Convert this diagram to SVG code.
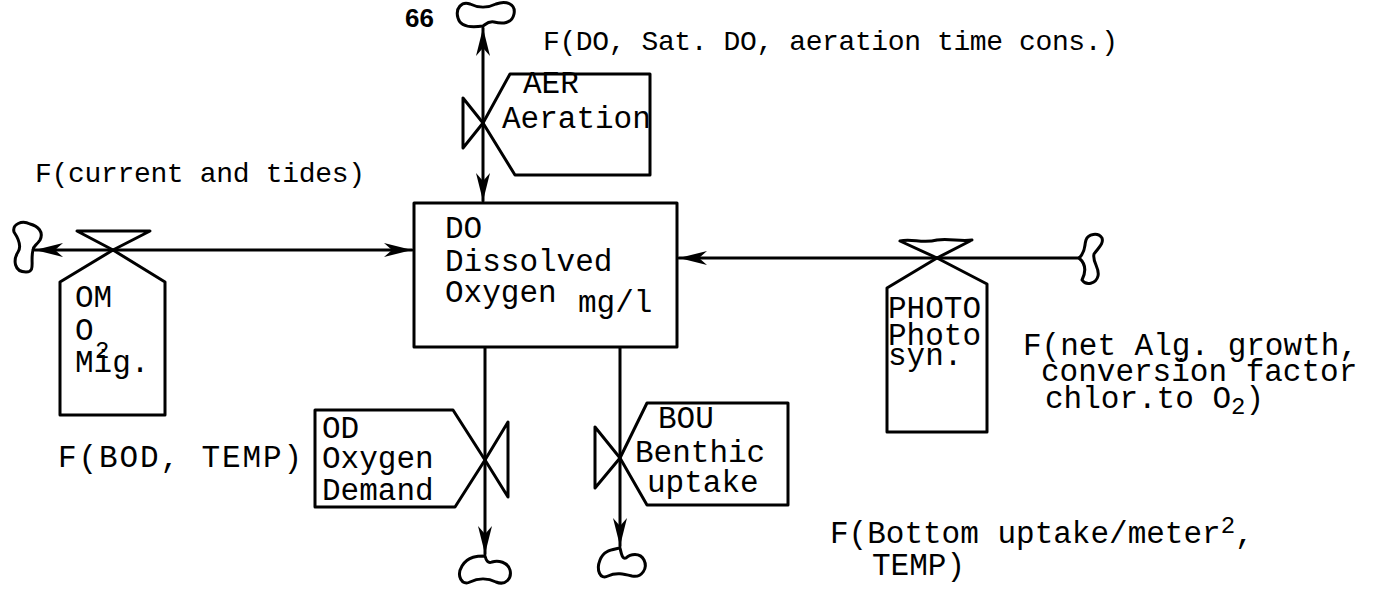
<svg xmlns="http://www.w3.org/2000/svg" width="1374" height="592" viewBox="0 0 1374 592">
<style>
  .ln{fill:none;stroke:#000;stroke-width:3;stroke-linejoin:round;stroke-linecap:round}
  .tx{font-family:"Liberation Mono","Courier New",monospace;font-size:31px;fill:#000}
  .an{font-size:28px}
  .sm{font-size:24px}
  .pg{font-family:"Liberation Sans",Arial,sans-serif;font-size:26px;font-weight:bold;fill:#000}
</style>
<defs>
  <marker id="ah" markerUnits="userSpaceOnUse" markerWidth="30" markerHeight="16" refX="28" refY="8" orient="auto-start-reverse" viewBox="0 0 30 16">
    <path d="M0,1 L28,8 L0,15 L8,8 z" fill="#000"/>
  </marker>
</defs>
<rect width="1374" height="592" fill="#fff"/>

<g id="clouds">
  <path id="cloud-top" class="ln" d="M483,26 C470,28 460,26 458,18 C455,8 462,1 470,4 C478,8 488,8 496,4 C506,0 516,4 514,14 C512,24 502,24 494,22 C488,21 486,24 483,26 Z"/>
  <path id="cloud-left" class="ln" d="M33,250 C30,262 36,272 26,272 C14,272 13,260 18,252 C22,246 18,238 14,232 C12,224 22,220 30,224 C38,226 44,232 40,240 C36,246 33,246 33,250 Z"/>
  <path id="cloud-right" class="ln" d="M1079,258 C1086,264 1086,272 1082,280 C1086,286 1096,284 1098,276 C1100,268 1092,262 1094,254 C1098,248 1104,244 1102,238 C1098,232 1088,234 1086,240 C1084,246 1086,252 1079,258 Z"/>
  <path id="cloud-od" class="ln" d="M485,556 C478,556 468,556 462,566 C456,576 462,586 470,582 C478,578 488,578 496,582 C506,586 512,578 510,570 C508,562 498,560 492,562 C488,564 486,560 485,556 Z"/>
  <path id="cloud-bou" class="ln" d="M620,548 C612,550 604,550 600,560 C596,570 600,580 608,576 C616,572 624,574 632,576 C642,578 648,568 644,560 C640,552 630,554 626,558 C622,560 621,552 620,548 Z"/>
</g>

<g id="connectors">
  <line class="ln" x1="483" y1="28" x2="483" y2="201" marker-start="url(#ah)" marker-end="url(#ah)"/>
  <line class="ln" x1="35" y1="250" x2="412" y2="250" marker-start="url(#ah)" marker-end="url(#ah)"/>
  <line class="ln" x1="1079" y1="258" x2="679" y2="258" marker-end="url(#ah)"/>
  <line class="ln" x1="485" y1="348" x2="485" y2="554" marker-end="url(#ah)"/>
  <line class="ln" x1="620" y1="348" x2="620" y2="546" marker-end="url(#ah)"/>
</g>

<g id="node-do">
  <rect class="ln" x="414" y="203" width="263" height="144"/>
  <text class="tx" x="445" y="238">DO</text>
  <text class="tx" x="445" y="271">Dissolved</text>
  <text class="tx" x="445" y="302">Oxygen</text>
  <text class="tx" x="578" y="312" font-size="29">mg/l</text>
</g>

<g id="node-aer">
  <path class="ln" d="M463,98 L463,148 L483,123 Z"/>
  <path class="ln" d="M483,123 L510,74 L650,74 L650,175 L515,175 Z"/>
  <text class="tx" x="523" y="93">AER</text>
  <text class="tx" x="502" y="128">Aeration</text>
</g>

<g id="node-om">
  <path class="ln" d="M77,231 L150,231 L113,250 Z"/>
  <path class="ln" d="M113,250 L60,282 L60,415 L165,415 L165,282 Z"/>
  <text class="tx" x="75" y="307">OM</text>
  <text class="tx" x="75" y="340">O</text>
  <text class="tx sm" x="95" y="358">2</text>
  <text class="tx" x="75" y="372">Mig.</text>
</g>

<g id="node-photo">
  <path class="ln" d="M900,241 C912,238 922,244 937,240 C950,238 960,242 972,240 L937,258 Z"/>
  <path class="ln" d="M937,258 L887,288 L887,432 L987,432 L987,284 Z"/>
  <text class="tx" x="888" y="318">PHOTO</text>
  <text class="tx" x="888" y="345">Photo</text>
  <text class="tx" x="888" y="365">syn.</text>
</g>

<g id="node-od">
  <path class="ln" d="M508,422 L508,497 L485,460 Z"/>
  <path class="ln" d="M485,460 L453,410 L315,410 L315,507 L455,507 Z"/>
  <text class="tx" x="322" y="438">OD</text>
  <text class="tx" x="322" y="468">Oxygen</text>
  <text class="tx" x="322" y="500">Demand</text>
</g>

<g id="node-bou">
  <path class="ln" d="M595,427 L595,488 L620,458 Z"/>
  <path class="ln" d="M620,458 L647,403 L788,403 L788,505 L647,505 Z"/>
  <text class="tx" x="658" y="428">BOU</text>
  <text class="tx" x="635" y="462">Benthic</text>
  <text class="tx" x="647" y="492">uptake</text>
</g>

<g id="labels">
  <text class="pg" x="405" y="27">66</text>
  <text class="tx an" x="543" y="50" textLength="575" lengthAdjust="spacing">F(DO, Sat. DO, aeration time cons.)</text>
  <text class="tx an" x="35" y="182" textLength="330" lengthAdjust="spacing">F(current and tides)</text>
  <text class="tx" x="1023" y="355" font-size="30">F(net Alg. growth,</text>
  <text class="tx" x="1041" y="381" font-size="30">conversion factor</text>
  <text class="tx" x="1045" y="408" font-size="28">chlor.to O<tspan class="sm" dy="6">2</tspan><tspan dy="-6">)</tspan></text>
  <text class="tx" x="58" y="467" font-size="30" textLength="244" lengthAdjust="spacing">F(BOD, TEMP)</text>
  <text class="tx" x="830" y="543" font-size="30">F(Bottom uptake/meter<tspan class="sm" dy="-10">2</tspan><tspan dy="10">,</tspan></text>
  <text class="tx" x="872" y="575" font-size="30">TEMP)</text>
</g>
</svg>
